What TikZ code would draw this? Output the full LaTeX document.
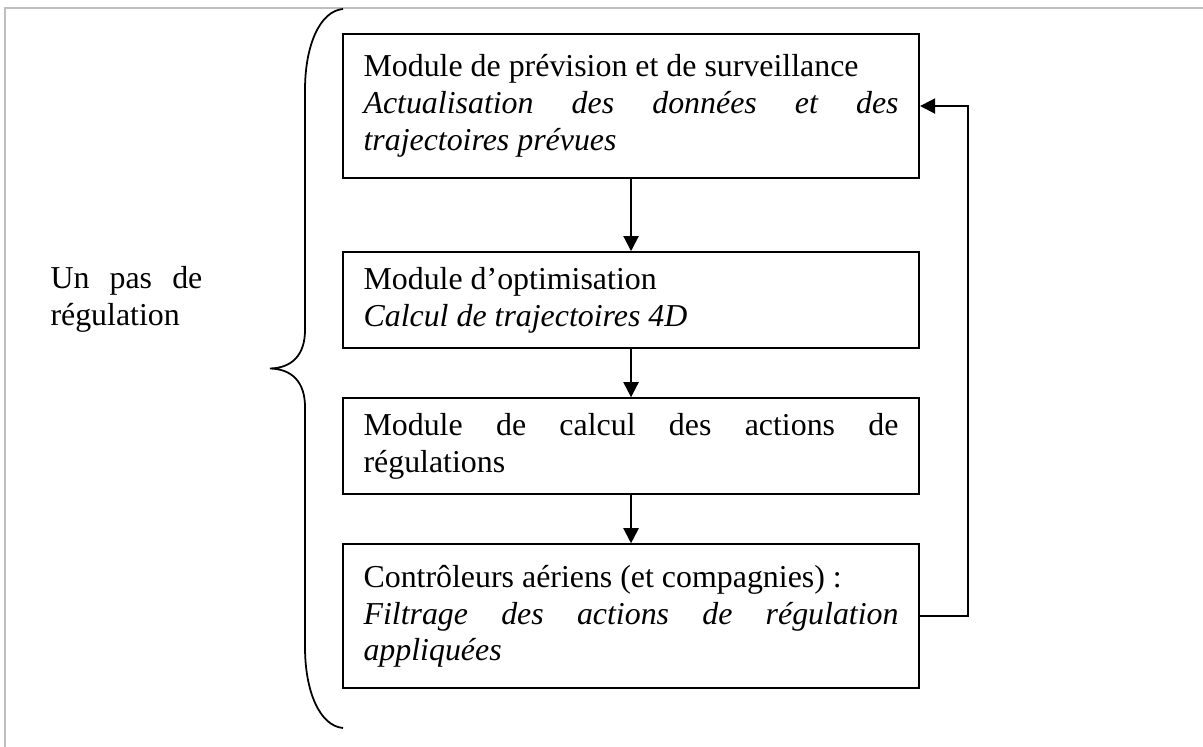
\documentclass[tikz,border=0pt]{standalone}
\usepackage{fontspec}
\setmainfont{Liberation Serif}
\usetikzlibrary{positioning}
\usetikzlibrary{arrows.meta}
\tikzset{%
  flowarrow/.style = {-{Triangle[length=6pt,width=6pt]},line width=0.8pt},
  modbox/.style = {rectangle,draw,line width=0.8pt,minimum width=228.7pt,
        text width=212.4pt,inner xsep=8.15pt,inner ysep=0pt,align=justify,
        font=\fontsize{12.66}{14.6}\selectfont},
  tallbox/.style = {modbox,minimum height=57.2pt},
  shortbox/.style = {modbox,minimum height=38.1pt}
}

\begin{document}
\begin{tikzpicture}[x=0.397pt,y=-0.397pt]
    \useasboundingbox (0,0) rectangle (1203,747);
    % page frame
    \draw[black!25,line width=0.8pt] (5,747) -- (5,8) -- (1203,8);

    \node[tallbox,anchor=north west] (prev) at (342,33)
        {Module de prévision et de surveillance\\
         \textit{Actualisation des données et des\linebreak trajectoires prévues}};
    \node[shortbox,below=28.6pt of prev] (opt)
        {Module d’optimisation\\
         \textit{Calcul de trajectoires 4D}};
    \node[shortbox,below=19.1pt of opt] (act)
        {Module de calcul des actions de\linebreak régulations};
    \node[tallbox,below=19.1pt of act] (ctrl)
        {Contrôleurs aériens (et compagnies) :\\
         \textit{Filtrage des actions de régulation\linebreak appliquées}};

    \draw[flowarrow] (prev) -- (opt);
    \draw[flowarrow] (opt) -- (act);
    \draw[flowarrow] (act) -- (ctrl);
    \draw[flowarrow] (ctrl.east) -- ++(19.1pt,0) |- (prev.east);

    % brace and its label
    \draw[line width=0.7pt] (343,9) .. controls (320,11) and (305,45) .. (305,90)
        -- (305,330) .. controls (305,355) and (292,368) .. (270,368.5)
        .. controls (292,369) and (305,382) .. (305,407)
        -- (305,647) .. controls (305,692) and (320,726) .. (343,728);
    \node[font=\fontsize{12.66}{14.6}\selectfont,text width=60.3pt,align=justify,
        inner sep=0pt,anchor=north west] (step) at (50,266)
        {Un pas de\linebreak régulation};
\end{tikzpicture}
\end{document}
